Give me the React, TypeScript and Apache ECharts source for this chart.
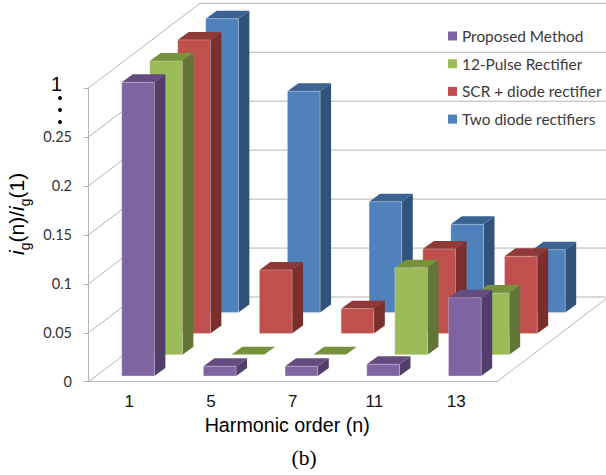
import React, { useEffect, useRef } from "react";
import * as echarts from "echarts";

const categories = ["1", "5", "7", "11", "13"];
const tickValues = [0, 0.05, 0.1, 0.15, 0.2, 0.25, 0.3];
const tickLabels = ["0", "0.05", "0.1", "0.15", "0.2", "0.25", "1"];

const proposed = [1, 0.01, 0.01, 0.012, 0.08];
const pulse12 = [1, 0, 0, 0.089, 0.063];
const scrDiode = [1, 0.065, 0.0255, 0.0865, 0.079];
const twoDiode = [1, 0.226, 0.113, 0.09, 0.064];

const seriesNames = ["Proposed Method", "12-Pulse Rectifier", "SCR + diode rectifier", "Two diode rectifiers"];
const seriesValues = [proposed, pulse12, scrDiode, twoDiode];
const frontColors = ["#8064A2", "#9BBB59", "#C0504D", "#4F81BD"];
const topColors = ["#644C80", "#76923C", "#903A38", "#3A6292"];
const sideColors = ["#533E6B", "#627537", "#7B2F2D", "#31527B"];

// the value axis is broken above 0.25: the value 1 sits where 0.3 would be
const BREAK_VALUE = 0.3;
const toAxis = (v: number) => (v > BREAK_VALUE ? BREAK_VALUE : v);

const WALL_DX = 111.5;
const WALL_DY = 84.7;
const SLOT_DX = 28;
const SLOT_DY = 21.2;
const START_DX = 8.7;
const START_DY = 5.7;
const BAR_RATIO = 0.4;
const BAR_DX = 11;
const BAR_DY = 8;
const GRID_COLOR = "#B4B4B4";
const LABEL_FONT = "Lato";

function barRenderer(seriesIndex: number) {
  return (_params: any, api: any) => {
    const band = api.size([1, 0])[0];
    const w = band * BAR_RATIO;
    const [cx, y0] = api.coord([api.value(0), 0]);
    const [, yTop] = api.coord([api.value(0), toAxis(api.value(1))]);
    const ox = START_DX + SLOT_DX * seriesIndex;
    const oy = START_DY + SLOT_DY * seriesIndex;
    const l = cx + ox - w / 2;
    const r = l + w;
    const b = y0 - oy;
    const t = yTop - oy;
    return {
      type: "group",
      children: [
        {
          type: "polygon",
          shape: { points: [[r, t], [r + BAR_DX, t - BAR_DY], [r + BAR_DX, b - BAR_DY], [r, b]] },
          style: { fill: sideColors[seriesIndex] },
        },
        {
          type: "polygon",
          shape: { points: [[l, t], [r, t], [r + BAR_DX, t - BAR_DY], [l + BAR_DX, t - BAR_DY]] },
          style: { fill: topColors[seriesIndex] },
        },
        {
          type: "rect",
          shape: { x: l, y: t, width: w, height: b - t },
          style: { fill: frontColors[seriesIndex], stroke: "rgba(255,255,255,0.35)", lineWidth: 0.8 },
        },
      ],
    };
  };
}

function wallRenderer(params: any, api: any) {
  const sys = params.coordSys;
  const x0 = sys.x;
  const x1 = sys.x + sys.width;
  const [, y] = api.coord([0, api.value(0)]);
  const children: any[] = [
    {
      type: "polyline",
      shape: { points: [[x0, y], [x0 + WALL_DX, y - WALL_DY], [x1 + WALL_DX, y - WALL_DY]] },
      style: { fill: "none", stroke: GRID_COLOR, lineWidth: 1 },
    },
  ];
  if (api.value(0) === 0) {
    children.push({
      type: "line",
      shape: { x1, y1: y, x2: x1 + WALL_DX, y2: y - WALL_DY },
      style: { stroke: GRID_COLOR, lineWidth: 1 },
    });
  }
  return { type: "group", children };
}

export default function App() {
  const ref = useRef<HTMLDivElement>(null);
  useEffect(() => {
    const chart = echarts.init(ref.current!, undefined, { renderer: "svg" });
    const barSeries = seriesNames
      .map((name, s) => ({
        type: "custom",
        name,
        coordinateSystem: "cartesian2d",
        clip: false,
        itemStyle: { color: frontColors[s] },
        encode: { x: 0, y: 1 },
        data: seriesValues[s].map((v, i) => [i, v]),
        renderItem: barRenderer(s),
      }))
      .reverse();
    chart.setOption({
      animation: false,
      backgroundColor: "#fff",
      grid: { left: 88.5, right: 109, top: 88, bottom: 93.3, containLabel: false, outerBoundsMode: "none" },
      legend: {
        orient: "vertical",
        left: 448,
        top: 27.5,
        padding: 0,
        itemWidth: 9,
        itemHeight: 9,
        itemGap: 10.7,
        icon: "rect",
        selectedMode: false,
        data: seriesNames,
        textStyle: { fontFamily: LABEL_FONT, fontSize: 15.4, color: "#3A3A3A", lineHeight: 17 },
      },
      xAxis: {
        type: "category",
        data: categories,
        name: "Harmonic order (n)",
        nameLocation: "middle",
        nameGap: 28,
        nameTextStyle: { fontFamily: "Liberation Sans", fontSize: 19.7, color: "#000", padding: [0, 11, 0, 0] },
        axisLine: { lineStyle: { color: GRID_COLOR, width: 1 } },
        axisTick: { length: 4, lineStyle: { color: GRID_COLOR } },
        axisLabel: { fontFamily: "Liberation Sans", fontSize: 17, color: "#111", margin: 11 },
      },
      yAxis: {
        type: "value",
        min: 0,
        max: BREAK_VALUE,
        interval: 0.05,
        name: "{i|i}{s|g}{t|(n)/}{i|i}{s|g}{t|(1)}",
        nameLocation: "middle",
        nameRotate: 90,
        nameGap: 57,
        nameTextStyle: {
          padding: [0, 0, 0, 42],
          rich: {
            i: { fontFamily: "Liberation Sans", fontStyle: "italic", fontSize: 21, color: "#000", lineHeight: 26, verticalAlign: "top" },
            t: { fontFamily: "Liberation Sans", fontSize: 21, color: "#000", lineHeight: 26, verticalAlign: "top" },
            s: { fontFamily: "Liberation Sans", fontSize: 14, color: "#000", lineHeight: 26, verticalAlign: "bottom" },
          },
        },
        splitLine: { show: false },
        axisLine: { show: true, lineStyle: { color: GRID_COLOR, width: 1 } },
        axisTick: { show: true, length: 5, lineStyle: { color: GRID_COLOR } },
        axisLabel: {
          margin: 16.5,
          fontFamily: LABEL_FONT,
          fontSize: 14.5,
          color: "#333",
          formatter: (_v: number, index: number) =>
            index === tickLabels.length - 1 ? `{big|${tickLabels[index]}}` : tickLabels[index],
          rich: {
            big: { fontFamily: "Liberation Sans", fontSize: 20, color: "#000", padding: [0, 10, 9, 0] },
          },
        },
      },
      graphic: [
        { type: "circle", shape: { cx: 60, cy: 98, r: 1.9 }, style: { fill: "#000" } },
        { type: "circle", shape: { cx: 60, cy: 110, r: 1.9 }, style: { fill: "#000" } },
        { type: "circle", shape: { cx: 60, cy: 122, r: 1.9 }, style: { fill: "#000" } },
        {
          type: "text",
          x: 304,
          y: 458,
          style: {
            text: "(b)",
            fontFamily: "Liberation Serif",
            fontSize: 21.5,
            fill: "#000",
            align: "center",
            verticalAlign: "middle",
          },
        },
      ],
      series: [
        {
          type: "custom",
          coordinateSystem: "cartesian2d",
          clip: false,
          silent: true,
          encode: { y: 0 },
          data: tickValues.map((v) => [v]),
          renderItem: wallRenderer,
        },
        ...barSeries,
      ],
    });
    return () => chart.dispose();
  }, []);
  return <div ref={ref} style={{ position: "absolute", left: 0, top: 0, width: 606, height: 475 }} />;
}
